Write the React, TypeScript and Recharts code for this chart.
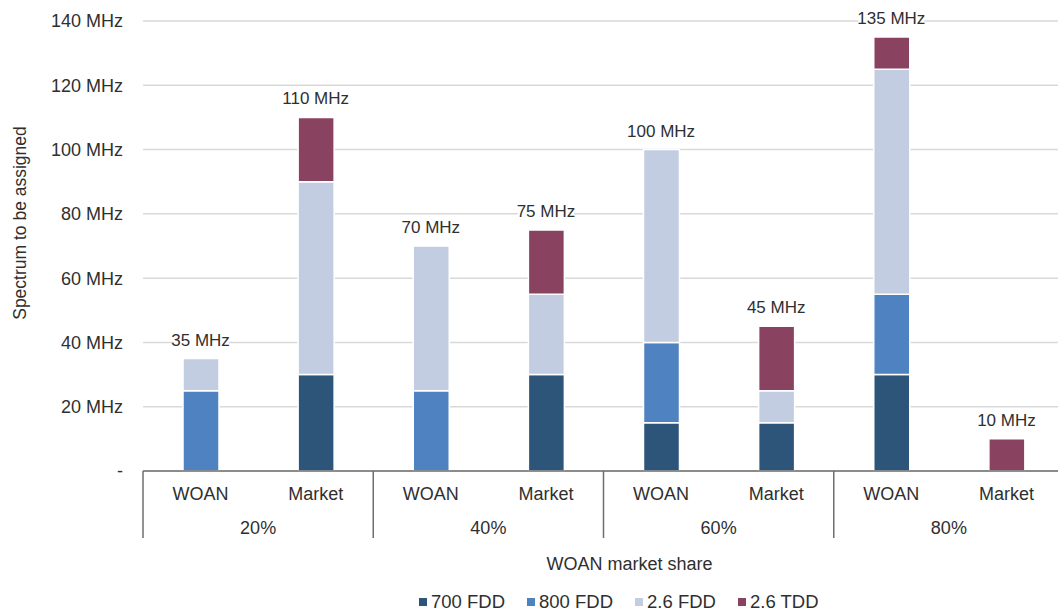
import React from 'react';
import {
    ComposedChart,
    Bar,
    Line,
    XAxis,
    YAxis,
    CartesianGrid,
    Legend,
    Label
} from 'recharts';

const groups = ['20%', '40%', '60%', '80%'];
const holders = ['WOAN', 'Market'];

// one entry per bar, in order: 20% WOAN, 20% Market, 40% WOAN, ...
const fdd700 = [0, 30, 0, 30, 15, 15, 30, 0];
const fdd800 = [25, 0, 25, 0, 25, 0, 25, 0];
const fdd26 = [10, 60, 45, 25, 60, 10, 70, 0];
const tdd26 = [0, 20, 0, 20, 0, 20, 10, 10];
const totals = [35, 110, 70, 75, 100, 45, 135, 10];

const yTicks = [0, 20, 40, 60, 80, 100, 120, 140];

const series = [
    { key: 'fdd700', name: '700 FDD', color: '#2d5579' },
    { key: 'fdd800', name: '800 FDD', color: '#4f82c0' },
    { key: 'fdd26', name: '2.6 FDD', color: '#c3cde2' },
    { key: 'tdd26', name: '2.6 TDD', color: '#8a4261' },
];

const rows = groups.flatMap((group, gi) =>
    holders.map((holder, hi) => {
        const i = gi * holders.length + hi;
        return {
            id: `${group}-${holder}`,
            holder,
            group,
            fdd700: fdd700[i],
            fdd800: fdd800[i],
            fdd26: fdd26[i],
            tdd26: tdd26[i],
            total: totals[i],
        };
    })
);

const CHART_W = 1064;
const CHART_H = 612;
const Y_AXIS_W = 143;
const BAND = (CHART_W - Y_AXIS_W) / rows.length;
const FONT = '"Liberation Sans", Arial, sans-serif';
const TEXT = '#2f2f2f';
const AXIS = '#6e6e6e';

// two-level category axis: holder name, then market share under each pair
const GroupTick = (props: any) => {
    const { x, y, payload } = props;
    const row = rows[payload.index];
    const first = payload.index % holders.length === 0;
    return (
        <g>
            <text x={x} y={y + 29} textAnchor="middle" fill={TEXT} fontSize={18} fontFamily={FONT}>
                {row.holder}
            </text>
            {first && (
                <>
                    <line x1={x - BAND / 2} x2={x - BAND / 2} y1={y} y2={y + 67} stroke={AXIS} strokeWidth={1.5} />
                    <text x={x + BAND / 2} y={y + 63} textAnchor="middle" fill={TEXT} fontSize={18} fontFamily={FONT}>
                        {row.group}
                    </text>
                </>
            )}
        </g>
    );
};

const TotalLabel = (props: any) => {
    const { x, y, value } = props;
    if (value == null) return null;
    const text = `${value} MHz`;
    const w = text.length * 9.4;
    return (
        <g>
            <rect x={x - w / 2} y={y - 30} width={w} height={20} fill="#fff" />
            <text x={x} y={y - 13} textAnchor="middle" fill={TEXT} fontSize={17} fontFamily={FONT}>
                {text}
            </text>
        </g>
    );
};

const YTitle = () => {
    const cx = 20;
    const cy = 223;
    return (
        <text
            x={cx}
            y={cy}
            transform={`rotate(-90 ${cx} ${cy})`}
            textAnchor="middle"
            dominantBaseline="central"
            fill={TEXT}
            fontSize={17.5}
            fontFamily={FONT}
        >
            Spectrum to be assigned
        </text>
    );
};

const SeriesLegend = () => (
    <div style={{ display: 'flex', gap: 22, fontFamily: FONT, fontSize: 18.5, color: TEXT, lineHeight: '22px' }}>
        {series.map((s) => (
            <div key={s.key} style={{ display: 'flex', alignItems: 'center', gap: 4 }}>
                <div style={{ width: 8, height: 8, backgroundColor: s.color }} />
                <span>{s.name}</span>
            </div>
        ))}
    </div>
);

export default function App() {
    return (
        <div style={{ position: 'absolute', left: 0, top: 0, width: 1058, height: 612, overflow: 'hidden', background: '#fff' }}>
            <ComposedChart
                width={CHART_W}
                height={CHART_H}
                data={rows}
                margin={{ top: 21, right: 0, left: 0, bottom: 0 }}
            >
                <CartesianGrid vertical={false} stroke="#d9d9d9" strokeWidth={1.5} />
                <XAxis
                    dataKey="id"
                    height={141}
                    tickLine={false}
                    tickSize={0}
                    tickMargin={0}
                    interval={0}
                    stroke={AXIS}
                    strokeWidth={1.5}
                    tick={<GroupTick />}
                >
                    <Label
                        value="WOAN market share"
                        position="insideBottom"
                        offset={42}
                        dx={26}
                        fill={TEXT}
                        fontSize={18}
                        fontFamily={FONT}
                    />
                </XAxis>
                <YAxis
                    width={Y_AXIS_W}
                    domain={[0, 140]}
                    ticks={yTicks}
                    interval={0}
                    axisLine={false}
                    tickLine={false}
                    tickSize={0}
                    tickMargin={20}
                    tick={{ fill: TEXT, fontSize: 18, fontFamily: FONT }}
                    tickFormatter={(v: number) => (v === 0 ? '-' : `${v} MHz`)}
                    label={<YTitle />}
                />
                {series.map((s) => (
                    <Bar
                        key={s.key}
                        dataKey={s.key}
                        name={s.name}
                        stackId="spectrum"
                        fill={s.color}
                        stroke="#fff"
                        strokeWidth={1.5}
                        barSize={36}
                        isAnimationActive={false}
                    />
                ))}
                <Line
                    dataKey="total"
                    stroke="none"
                    dot={false}
                    activeDot={false}
                    legendType="none"
                    label={<TotalLabel />}
                    isAnimationActive={false}
                />
                <Legend
                    layout="horizontal"
                    verticalAlign="middle"
                    align="center"
                    content={<SeriesLegend />}
                    wrapperStyle={{ left: 419, top: 591, width: 'auto' }}
                />
            </ComposedChart>
        </div>
    );
}
